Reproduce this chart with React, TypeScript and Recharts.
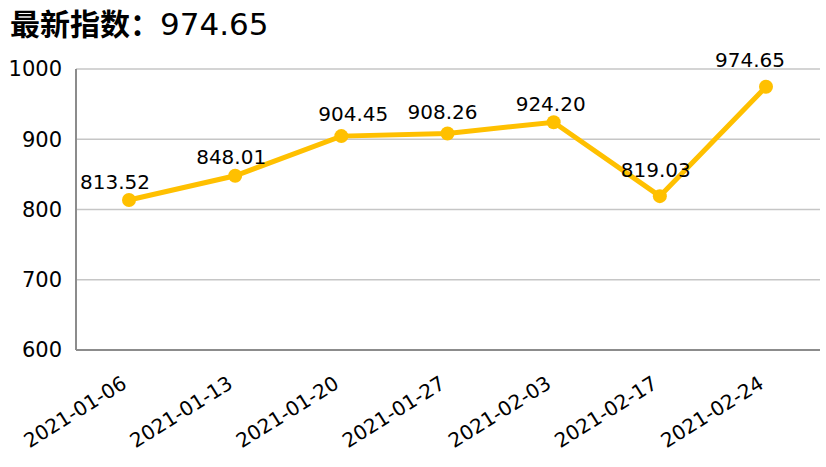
import { LineChart, Line, XAxis, YAxis, CartesianGrid, LabelList } from 'recharts';

// weekly dates and index values
const dates = ['2021-01-06', '2021-01-13', '2021-01-20', '2021-01-27', '2021-02-03', '2021-02-17', '2021-02-24'];
const indexValues = [813.52, 848.01, 904.45, 908.26, 924.2, 819.03, 974.65];
const yTicks = [600, 700, 800, 900, 1000];
const latestLabel = '最新指数：';

// small hand nudges of the value labels, as in the original chart
const labelDx = [-14, -4, 12, -5, -3, -4, -16];
const labelLift = [11, 12, 15, 14, 11, 19, 20];

const chartData = dates.map((d, i) => ({ date: d, value: indexValues[i] }));

const FONT = '"DejaVu Sans", sans-serif';
const GOLD = '#FFC000';

// rotated date label under the axis
const DateTick = ({ x, y, payload }: any) => {
  const tx = x - 1;
  const ty = y + 29;
  return (
    <text
      x={tx}
      y={ty}
      transform={`rotate(-32, ${tx}, ${ty})`}
      textAnchor="end"
      fontFamily={FONT}
      fontSize={20}
      fill="#000"
    >
      {payload.value}
    </text>
  );
};

const ValueLabel = ({ x, y, value, index }: any) => (
  <text
    x={x + (labelDx[index] ?? 0)}
    y={y - (labelLift[index] ?? 13)}
    textAnchor="middle"
    fontFamily={FONT}
    fontSize={20}
    fill="#000"
  >
    {Number(value).toFixed(2)}
  </text>
);

const App = () => {
  const latest = indexValues[indexValues.length - 1];
  return (
    <div style={{ position: 'absolute', left: 0, top: 0, width: 826, height: 467, background: '#fff' }}>
      <div
        style={{
          position: 'absolute',
          left: 10,
          top: 2,
          fontFamily: '"Noto Sans CJK SC", sans-serif',
          fontSize: 30,
          fontWeight: 700,
          color: '#000',
          lineHeight: '40px',
          whiteSpace: 'nowrap',
        }}
      >
        {latestLabel}
        <span style={{ fontFamily: FONT, fontSize: 31, fontWeight: 400 }}>{latest.toFixed(2)}</span>
      </div>
      <LineChart width={826} height={467} data={chartData} margin={{ top: 69, right: 6, left: 0, bottom: 0 }}>
        <CartesianGrid vertical={false} stroke="#c6c6c6" strokeWidth={1.5} />
        <XAxis
          dataKey="date"
          height={117}
          padding={{ left: 53, right: 54 }}
          axisLine={{ stroke: '#8c8c8c', strokeWidth: 2 }}
          tickLine={false}
          tick={<DateTick />}
          interval={0}
        />
        <YAxis
          width={76}
          domain={[600, 1000]}
          ticks={yTicks}
          axisLine={{ stroke: '#8c8c8c', strokeWidth: 2 }}
          tickLine={false}
          tickSize={0}
          tickMargin={14}
          tick={{ fontFamily: FONT, fontSize: 21, fill: '#000' }}
        />
        <Line
          type="linear"
          dataKey="value"
          stroke={GOLD}
          strokeWidth={5}
          dot={{ r: 7, fill: GOLD, stroke: GOLD, strokeWidth: 0 }}
          isAnimationActive={false}
        >
          <LabelList dataKey="value" content={<ValueLabel />} />
        </Line>
      </LineChart>
    </div>
  );
};

export default App;
